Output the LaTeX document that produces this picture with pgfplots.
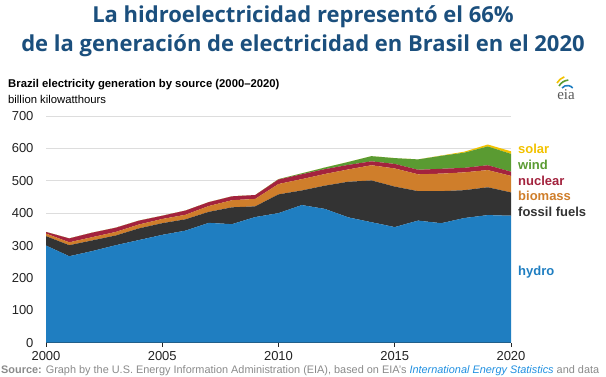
\documentclass[border=0pt]{standalone}
\usepackage{pgfplots}
\pgfplotsset{compat=1.18}
\usepackage{pgfplotstable}
\usepackage{fontspec}
\setmainfont{Liberation Sans}
\newfontfamily\titlefont{Open Sans}
\newfontfamily\logofont{Liberation Serif}
\definecolor{hydro}{HTML}{1F7EC1}
\definecolor{fossil}{HTML}{333333}
\definecolor{biomass}{HTML}{CF7E2B}
\definecolor{nuclear}{HTML}{A3233E}
\definecolor{wind}{HTML}{5A9B32}
\definecolor{solar}{HTML}{F2C200}
\definecolor{titleblue}{HTML}{1B4F7D}
\definecolor{ticktext}{HTML}{222222}
\definecolor{gridgray}{HTML}{DDDDDD}
\definecolor{srcgray}{HTML}{8A8A8A}
\definecolor{linkblue}{HTML}{1F8FE0}

\pgfplotstableread{
year hydro fossil biomass nuclear wind solar
2000 300 29 8 5 0 0
2001 267 34 9 12 0 0
2002 283 33 10 14 0 0
2003 301 30 11 13 0 0
2004 317 36 12 12 0 0
2005 333 36 13 10 0 0
2006 346 35 14 13 0 0
2007 370 34 18 12 0 0
2008 366 52 22 12 0 0
2009 388 33 23 12 0 0
2010 400 58 32 14 1 0
2011 425 45 35 15 3 0
2012 413 72 36 15 5 0
2013 387 110 38 14 9 0
2014 372 129 47 12 16 0
2015 357 125 56 14 18 0
2016 377 91 52 14 32 0
2017 369 99 54 15 40 1
2018 385 86 55 14 47 3
2019 394 86 53 15 58 6
2020 392 72 51 13 55 8
}\datatable

\begin{document}
\begin{tikzpicture}[x=1pt,y=1pt]
\path[use as bounding box] (0,0) rectangle (606,376);
% titles
\node[anchor=base,font=\titlefont\bfseries\fontsize{22}{26}\selectfont,text=titleblue,inner sep=0] at (303,354) {La hidroelectricidad representó el 66\%};
\node[anchor=base,font=\titlefont\bfseries\fontsize{22}{26}\selectfont,text=titleblue,inner sep=0] at (303,324) {de la generación de electricidad en Brasil en el 2020};
\node[anchor=base west,font=\bfseries\fontsize{11.3}{13}\selectfont,inner sep=0] at (8,289) {Brazil electricity generation by source (2000--2020)};
\node[anchor=base west,font=\fontsize{11.3}{13}\selectfont,inner sep=0] at (8,273) {billion kilowatthours};
% eia logo
\node[anchor=base,font=\logofont\fontsize{15}{15}\selectfont,text=black!65,inner sep=0] at (566,277) {eia};
\draw[line width=1.6pt,color=solar] (557,293) arc[start angle=150,end angle=110,radius=14];
\draw[line width=1.6pt,color=wind] (559,290) arc[start angle=150,end angle=95,radius=12];
\draw[line width=1.6pt,color=hydro] (562,288) arc[start angle=140,end angle=40,radius=7];
\begin{axis}[
  at={(46pt,33.3pt)}, anchor=south west,
  scale only axis, width=465pt, height=226.7pt,
  xmin=2000, xmax=2020, ymin=0, ymax=700,
  stack plots=y,
  axis x line*=bottom, axis y line*=left,
  y axis line style={draw=none},
  x axis line style={draw=black!85, line width=1.2pt},
  xtick={2000,2005,...,2020}, ytick={0,100,...,700},
  ymajorgrids, grid style={gridgray, line width=0.8pt},
  ytick style={draw=none},
  xtick style={draw=black!85, line width=0.8pt},
  major tick length=4pt, tick align=outside,
  tick label style={font=\fontsize{13}{15}\selectfont, text=ticktext},
  /pgf/number format/assume math mode=true,
  /pgf/number format/1000 sep={},
  yticklabel style={xshift=-5pt},
  xticklabel style={yshift=-1pt},
  clip=false,
]
\addplot[fill=hydro, draw=none] table[x=year,y=hydro]{\datatable} \closedcycle;
\addplot[fill=fossil, draw=none] table[x=year,y=fossil]{\datatable} \closedcycle;
\addplot[fill=biomass, draw=none] table[x=year,y=biomass]{\datatable} \closedcycle;
\addplot[fill=nuclear, draw=none] table[x=year,y=nuclear]{\datatable} \closedcycle;
\addplot[fill=wind, draw=none] table[x=year,y=wind]{\datatable} \closedcycle;
\addplot[fill=solar, draw=none] table[x=year,y=solar]{\datatable} \closedcycle;
\end{axis}
% series labels
\begin{scope}[every node/.style={anchor=west,inner sep=0,font=\bfseries\fontsize{13}{15}\selectfont}]
\node[text=solar] at (518,227) {solar};
\node[text=wind] at (518,211) {wind};
\node[text=nuclear] at (518,195.5) {nuclear};
\node[text=biomass] at (518,180) {biomass};
\node[text=fossil] at (518,164.5) {fossil fuels};
\node[text=hydro] at (518,104) {hydro};
\end{scope}
% source
\node[anchor=base west,inner sep=0,font=\fontsize{10.9}{12}\selectfont,text=srcgray] at (1,3) {\textbf{Source:} Graph by the U.S. Energy Information Administration (EIA), based on EIA's \textcolor{linkblue}{\textit{International Energy Statistics}} and data};
\end{tikzpicture}
\end{document}
